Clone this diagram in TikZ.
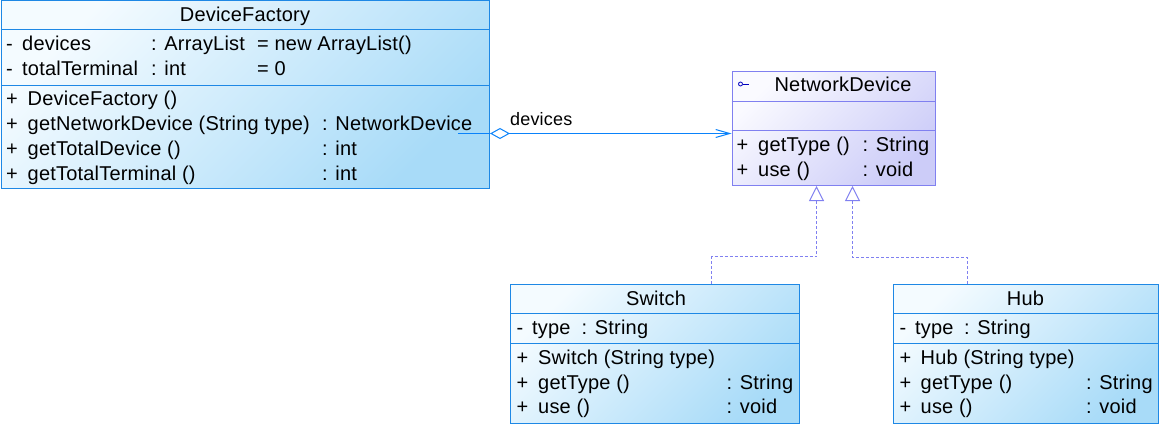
\documentclass[tikz,border=0pt]{standalone}
\usepackage{fontspec}
\setmainfont[LetterSpace=1]{Liberation Sans}
\usetikzlibrary{arrows.meta,calc}
\definecolor{bluebd}{RGB}{30,136,229}
\definecolor{bluelt}{RGB}{244,251,255}
\definecolor{bluedk}{RGB}{168,219,248}
\definecolor{purbd}{RGB}{128,128,240}
\definecolor{purlt}{RGB}{250,250,255}
\definecolor{purdk}{RGB}{204,204,248}
\definecolor{linkblue}{RGB}{10,130,250}
\definecolor{icon}{RGB}{0,0,190}
\tikzset{
  classbox/.style={draw=bluebd, line width=1pt, top color=bluelt, bottom color=bluedk, shading angle=45, inner sep=0, anchor=north west},
  ifacebox/.style={draw=purbd, line width=1pt, top color=purlt, bottom color=purdk, shading angle=45, inner sep=0, anchor=north west},
  bsep/.style={draw=bluebd, line width=1pt},
  psep/.style={draw=purbd, line width=1pt},
  txt/.style={font=\fontsize{20}{24}\selectfont, inner sep=0, anchor=base west, text=black},
  ttl/.style={font=\fontsize{20}{24}\selectfont, inner sep=0, anchor=base, text=black},
  lbl/.style={font=\fontsize{18}{22}\selectfont, inner sep=0, anchor=base west, text=black},
  assoc/.style={draw=linkblue, line width=1pt},
  inh/.style={draw=purbd, line width=1pt, dash pattern=on 3pt off 2pt, -{Triangle[open, length=15pt, width=15pt, fill=white]}},
}
\begin{document}
\begin{tikzpicture}[x=1pt, y=-1pt]
\useasboundingbox (0,0) rectangle (1161,425);
% ---------- DeviceFactory
\node[classbox, minimum width=488.5pt, minimum height=187.5pt] (df) at (0.5,0.5) {};
\draw[bsep] (df.west |- 0,30) -- (df.east |- 0,30);
\draw[bsep] (df.west |- 0,85.5) -- (df.east |- 0,85.5);
\node[ttl] (dft) at (245,21.7) {DeviceFactory};
\node[txt] (dfa1v) at (6,51) {-};
\node[txt] (dfa1n) at (22,51) {devices};
\node[txt] (dfa1t) at (151,51) {: ArrayList};
\node[txt] (dfa1i) at (257,51) {= new ArrayList()};
\node[txt] (dfa2v) at (6,76) {-};
\node[txt] (dfa2n) at (22,76) {totalTerminal};
\node[txt] (dfa2t) at (151,76) {: int};
\node[txt] (dfa2i) at (257,76) {= 0};
\node[txt] (dfm1v) at (6,106) {+};
\node[txt] (dfm1n) at (27.5,106) {DeviceFactory ()};
\node[txt] (dfm2v) at (6,130.5) {+};
\node[txt] (dfm2n) at (27.5,130.5) {getNetworkDevice (String type)};
\node[txt] (dfm2t) at (322,130.5) {: NetworkDevice};
\node[txt] (dfm3v) at (6,155.5) {+};
\node[txt] (dfm3n) at (27.5,155.5) {getTotalDevice ()};
\node[txt] (dfm3t) at (322,155.5) {: int};
\node[txt] (dfm4v) at (6,180.5) {+};
\node[txt] (dfm4n) at (27.5,180.5) {getTotalTerminal ()};
\node[txt] (dfm4t) at (322,180.5) {: int};
% ---------- NetworkDevice
\node[ifacebox, minimum width=203pt, minimum height=113.5pt] (nd) at (731.5,71.5) {};
\draw[psep] (nd.west |- 0,101.5) -- (nd.east |- 0,101.5);
\draw[psep] (nd.west |- 0,130.5) -- (nd.east |- 0,130.5);
\draw[icon, line width=0.8pt] (740.5,84) circle (2);
\draw[icon, line width=0.8pt] (742.5,84) -- (748.5,84);
\node[ttl] (ndt) at (843,91.5) {NetworkDevice};
\node[txt] (ndm1v) at (736.5,151.5) {+};
\node[txt] (ndm1n) at (758,151.5) {getType ()};
\node[txt] (ndm1t) at (862.5,151.5) {: String};
\node[txt] (ndm2v) at (736.5,176.5) {+};
\node[txt] (ndm2n) at (758,176.5) {use ()};
\node[txt] (ndm2t) at (862.5,176.5) {: void};
% ---------- Switch
\node[classbox, minimum width=289pt, minimum height=139.5pt] (sw) at (510,283.5) {};
\draw[bsep] (sw.west |- 0,313.5) -- (sw.east |- 0,313.5);
\draw[bsep] (sw.west |- 0,343.5) -- (sw.east |- 0,343.5);
\node[ttl] (swt) at (656,305) {Switch};
\node[txt] (swa1v) at (516.5,334) {-};
\node[txt] (swa1n) at (532,334) {type};
\node[txt] (swa1t) at (581.5,334) {: String};
\node[txt] (swm1v) at (516.5,364) {+};
\node[txt] (swm1n) at (538,364) {Switch (String type)};
\node[txt] (swm2v) at (516.5,389) {+};
\node[txt] (swm2n) at (538,389) {getType ()};
\node[txt] (swm2t) at (726.5,389) {: String};
\node[txt] (swm3v) at (516.5,413.5) {+};
\node[txt] (swm3n) at (538,413.5) {use ()};
\node[txt] (swm3t) at (726.5,413.5) {: void};
% ---------- Hub
\node[classbox, minimum width=265pt, minimum height=139.5pt] (hub) at (893,283.5) {};
\draw[bsep] (hub.west |- 0,313.5) -- (hub.east |- 0,313.5);
\draw[bsep] (hub.west |- 0,343.5) -- (hub.east |- 0,343.5);
\node[ttl] (hubt) at (1025.5,305) {Hub};
\node[txt] (hba1v) at (899.5,334) {-};
\node[txt] (hba1n) at (915,334) {type};
\node[txt] (hba1t) at (964,334) {: String};
\node[txt] (hbm1v) at (899.5,364) {+};
\node[txt] (hbm1n) at (920.5,364) {Hub (String type)};
\node[txt] (hbm2v) at (899.5,389) {+};
\node[txt] (hbm2n) at (920.5,389) {getType ()};
\node[txt] (hbm2t) at (1086,389) {: String};
\node[txt] (hbm3v) at (899.5,413.5) {+};
\node[txt] (hbm3n) at (920.5,413.5) {use ()};
\node[txt] (hbm3t) at (1086,413.5) {: void};
% ---------- association
\coordinate (as) at (458,133.5);
\draw[assoc] (as) -- (df.east |- as);
\draw[assoc, {Diamond[open, length=20pt, width=11pt]}-{Straight Barb[length=14pt, width=8pt]}] (df.east |- as) -- (nd.west |- as);
\node[lbl] (lab) at (510,125) {devices};
% ---------- generalizations
\draw[inh] (sw.north -| 711.5,0) |- (816.5,256.5) -- (nd.south -| 816.5,0);
\draw[inh] (hub.north -| 967.5,0) |- (852.5,257.5) -- (nd.south -| 852.5,0);
\end{tikzpicture}
\end{document}
